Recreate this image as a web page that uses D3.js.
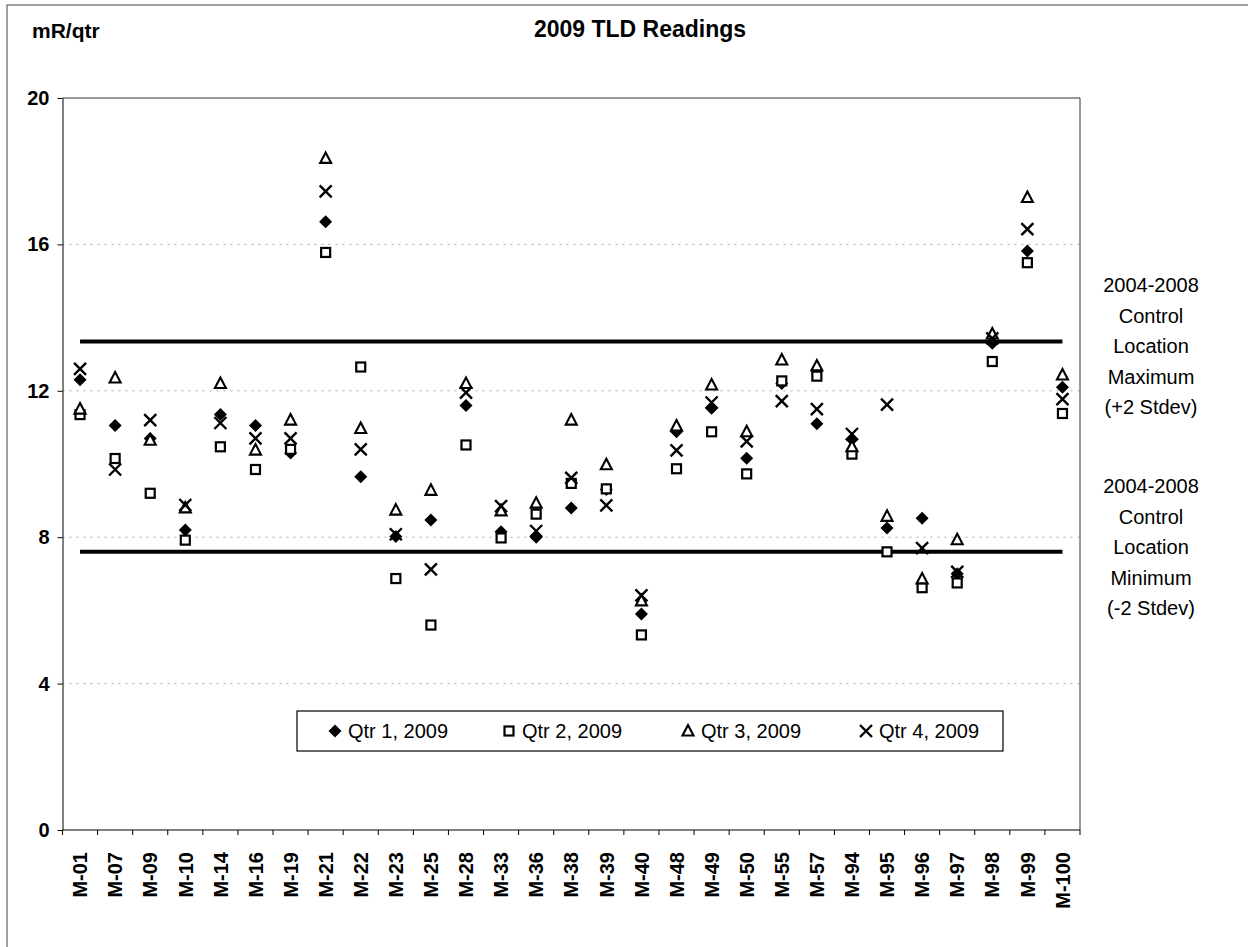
<!DOCTYPE html>
<html>
<head>
<meta charset="utf-8">
<script src="https://cdn.jsdelivr.net/npm/d3@7"></script>
<style>
  body { margin: 0; background: #fff; }
  svg text { font-family: "Liberation Sans", Arial, sans-serif; fill: #000; }
</style>
</head>
<body>
<svg id="chart" width="1248" height="947"></svg>
<script>
// Sampling locations
const sites = ["M-01","M-07","M-09","M-10","M-14","M-16","M-19","M-21","M-22","M-23",
  "M-25","M-28","M-33","M-36","M-38","M-39","M-40","M-48","M-49","M-50",
  "M-55","M-57","M-94","M-95","M-96","M-97","M-98","M-99","M-100"];

// Quarterly readings, mR/qtr
const qtr1 = [12.3,11.05,10.7,8.2,11.35,11.05,10.3,16.62,9.65,8.02,
  8.47,11.6,8.15,8.0,8.8,9.3,5.9,10.88,11.52,10.16,
  12.2,11.1,10.67,8.25,8.52,7.0,13.3,15.82,12.1];
const qtr2 = [11.35,10.15,9.2,7.92,10.47,9.85,10.4,15.78,12.65,6.87,
  5.6,10.52,7.98,8.63,9.47,9.32,5.33,9.87,10.88,9.73,
  12.27,12.4,10.27,7.6,6.62,6.75,12.8,15.5,11.38];
const qtr3 = [11.5,12.35,10.65,8.8,12.2,10.38,11.2,18.35,10.97,8.74,
  9.28,12.2,8.72,8.93,11.2,9.98,6.26,11.04,12.16,10.88,
  12.84,12.68,10.47,8.57,6.86,7.93,13.55,17.28,12.43];
const qtr4 = [12.6,9.85,11.2,8.88,11.12,10.7,10.7,17.45,10.4,8.08,
  7.12,11.95,8.85,8.17,9.62,8.87,6.41,10.37,11.68,10.62,
  11.72,11.5,10.82,11.62,7.7,7.05,13.43,16.42,11.77];

const seriesNames = ["Qtr 1, 2009", "Qtr 2, 2009", "Qtr 3, 2009", "Qtr 4, 2009"];
const seriesShapes = ["diamond", "square", "triangle", "cross"];

// 2004-2008 control location limits
const controlMax = 13.35;
const controlMin = 7.6;

const yTicks = [0, 4, 8, 12, 16, 20];
const maxLabel = ["2004-2008", "Control", "Location", "Maximum", "(+2 Stdev)"];
const minLabel = ["2004-2008", "Control", "Location", "Minimum", "(-2 Stdev)"];

const svg = d3.select("#chart");

// outer chart frame
svg.append("rect")
  .attr("x", 7).attr("y", 5)
  .attr("width", 1300).attr("height", 1000)
  .attr("fill", "none").attr("stroke", "#444").attr("stroke-width", 1);

const plot = { left: 62.5, right: 1080, top: 98, bottom: 830 };

const x = d3.scaleBand()
  .domain(sites)
  .range([plot.left, plot.right]);

const y = d3.scaleLinear()
  .domain([0, 20])
  .range([plot.bottom, plot.top]);

const cx = d => x(d) + x.bandwidth() / 2;

// gridlines (dotted)
svg.append("g")
  .selectAll("line")
  .data(yTicks.filter(t => t > 0 && t < 20))
  .join("line")
  .attr("x1", plot.left).attr("x2", plot.right)
  .attr("y1", d => y(d)).attr("y2", d => y(d))
  .attr("stroke", "#aaa")
  .attr("stroke-width", 1)
  .attr("stroke-dasharray", "2,5");

// plot area top and right border
svg.append("path")
  .attr("d", `M${plot.left},${y(20)}H${plot.right}V${plot.bottom}`)
  .attr("fill", "none")
  .attr("stroke", "#333")
  .attr("stroke-width", 1);

// Y axis
const yAxis = svg.append("g")
  .attr("transform", `translate(${plot.left},0)`)
  .call(d3.axisLeft(y).tickValues(yTicks).tickSize(5).tickPadding(8).tickSizeOuter(0));
yAxis.selectAll("text")
  .attr("font-size", 20)
  .attr("font-weight", "bold");
yAxis.selectAll(".domain, .tick line").attr("stroke", "#000");

// X axis: line + tick marks between categories
const xAxis = svg.append("g");
xAxis.append("line")
  .attr("x1", plot.left).attr("x2", plot.right)
  .attr("y1", y(0)).attr("y2", y(0))
  .attr("stroke", "#000");
xAxis.selectAll("line.tick")
  .data(sites.map(d => x(d)).concat([x.range()[1]]))
  .join("line")
  .attr("class", "tick")
  .attr("x1", d => d).attr("x2", d => d)
  .attr("y1", y(0)).attr("y2", y(0) + 5)
  .attr("stroke", "#000");
xAxis.selectAll("text")
  .data(sites)
  .join("text")
  .attr("transform", d => `translate(${cx(d)},${y(0) + 22}) rotate(-90)`)
  .attr("dy", "0.36em")
  .attr("text-anchor", "end")
  .attr("font-size", 20)
  .attr("font-weight", "bold")
  .text(d => d);

// control limit lines
svg.selectAll("line.control")
  .data([controlMax, controlMin])
  .join("line")
  .attr("class", "control")
  .attr("x1", cx(sites[0])).attr("x2", cx(sites[sites.length - 1]))
  .attr("y1", d => y(d)).attr("y2", d => y(d))
  .attr("stroke", "#000")
  .attr("stroke-width", 4);

// marker drawing
function marker(sel, shape) {
  if (shape === "diamond") {
    sel.append("path").attr("d", "M0,-6.5L6.5,0L0,6.5L-6.5,0Z").attr("fill", "#000");
  } else if (shape === "square") {
    sel.append("rect").attr("x", -4.5).attr("y", -4.5).attr("width", 9).attr("height", 9)
      .attr("fill", "#fff").attr("stroke", "#000").attr("stroke-width", 2.2);
  } else if (shape === "triangle") {
    sel.append("path").attr("d", "M0,-6L5.5,4.5L-5.5,4.5Z")
      .attr("fill", "#fff").attr("stroke", "#000").attr("stroke-width", 2.1)
      .attr("stroke-linejoin", "miter");
  } else {
    sel.append("path").attr("d", "M-6,-6L6,6M-6,6L6,-6")
      .attr("fill", "none").attr("stroke", "#000").attr("stroke-width", 2.4);
  }
}

const series = [qtr1, qtr2, qtr3, qtr4];
series.forEach((vals, si) => {
  const g = svg.append("g");
  g.selectAll("g")
    .data(vals.map((v, i) => ({ site: sites[i], v })))
    .join("g")
    .attr("transform", d => `translate(${cx(d.site)},${y(d.v)})`)
    .each(function() { marker(d3.select(this), seriesShapes[si]); });
});

// legend
const legend = svg.append("g");
legend.append("rect")
  .attr("x", 297).attr("y", 711)
  .attr("width", 706).attr("height", 40)
  .attr("fill", "#fff").attr("stroke", "#000").attr("stroke-width", 1.2);
const legendX = [335, 509, 688, 866];
seriesNames.forEach((name, i) => {
  const item = legend.append("g").attr("transform", `translate(${legendX[i]},731)`);
  marker(item, seriesShapes[i]);
  item.append("text")
    .attr("x", 13)
    .attr("dy", "0.36em")
    .attr("font-size", 20)
    .text(name);
});

// title and unit label
svg.append("text")
  .attr("x", 640).attr("y", 37)
  .attr("text-anchor", "middle")
  .attr("font-size", 23)
  .attr("font-weight", "bold")
  .text("2009 TLD Readings");
svg.append("text")
  .attr("x", 32).attr("y", 38)
  .attr("font-size", 21)
  .attr("font-weight", "bold")
  .text("mR/qtr");

// control limit notes on the right
function note(lines, y0) {
  svg.append("g").selectAll("text")
    .data(lines)
    .join("text")
    .attr("x", 1151)
    .attr("y", (d, i) => y0 + i * 30.6)
    .attr("text-anchor", "middle")
    .attr("font-size", 20)
    .text(d => d);
}
note(maxLabel, 292);
note(minLabel, 493);
</script>
</body>
</html>
